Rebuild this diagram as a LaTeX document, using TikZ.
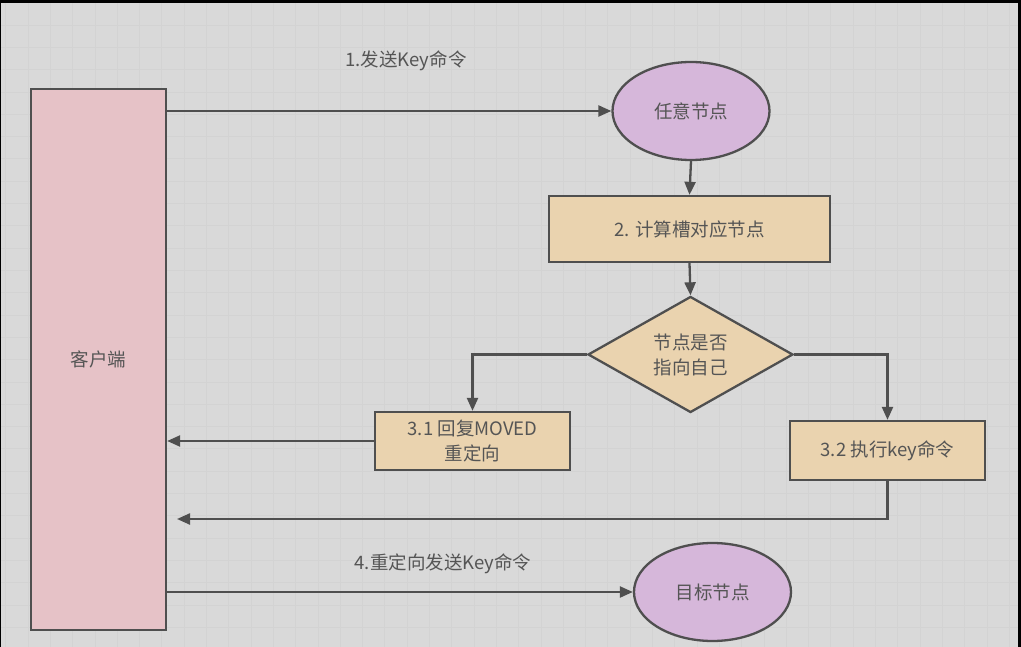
\documentclass[tikz,border=0pt]{standalone}
\usepackage{fontspec}
\setmainfont{Noto Sans CJK SC}
\usetikzlibrary{shapes.geometric,arrows.meta}
\definecolor{bgc}{HTML}{D9D9D9}
\definecolor{gridc}{HTML}{D3D3D3}
\definecolor{linec}{HTML}{4F4F4F}
\definecolor{txtc}{HTML}{555555}
\definecolor{pinkc}{HTML}{E6C2C7}
\definecolor{beigec}{HTML}{EAD3AF}
\definecolor{purplec}{HTML}{D6B7DA}
\tikzset{
  shapebase/.style={draw=linec, line width=2.3pt, text=txtc, font=\fontsize{18.5}{25}\selectfont, inner sep=0pt, align=center},
  boxn/.style={shapebase, rectangle, fill=beigec},
  ellnode/.style={shapebase, ellipse, fill=purplec, minimum width=157pt, minimum height=98pt},
  decnode/.style={shapebase, diamond, fill=beigec, minimum width=205pt, minimum height=115pt},
  conn/.style={draw=linec, line width=2.3pt},
  arr/.style={conn, -{Triangle[length=13pt,width=11pt]}},
  lbl/.style={text=txtc, font=\fontsize{18.5}{22}\selectfont, inner sep=0pt},
}
\begin{document}
\begin{tikzpicture}[x=1pt,y=-1pt]
\useasboundingbox (0,0) rectangle (1021,647);
\fill[bgc] (0,0) rectangle (1021,647);
\foreach \i in {0,...,45} \draw[gridc, line width=0.8pt] ({5.7+22.3*\i},0) -- ++(0,647);
\foreach \i in {0,...,29} \draw[gridc, line width=0.8pt] (0,{2.8+22.3*\i}) -- ++(1021,0);
\fill[black] (0,0) rectangle (1021,3);
\fill[black] (1018,0) rectangle (1021,647);
\fill[black] (0,0) rectangle (1,647);

\node[shapebase, rectangle, fill=pinkc, minimum width=135pt, minimum height=541pt] (client) at (98.5,359.5) {客户端};
\node[ellnode] (e1) at (691,111) {任意节点};
\node[boxn, minimum width=281pt, minimum height=66pt] (r2) at (689.5,229) {2. 计算槽对应节点};
\node[decnode] (d) at (690.5,354.5) {节点是否\\指向自己};
\node[boxn, minimum width=195pt, minimum height=58pt] (r31) at (472.5,441) {3.1 回复MOVED\\重定向};
\node[boxn, minimum width=195pt, minimum height=59pt] (r32) at (887.5,450.5) {3.2 执行key命令};
\node[ellnode] (e2) at (712.5,592) {目标节点};
\coordinate (ret) at (177,519);

\node[lbl] (l1) at (406,61) {1.发送Key命令};
\node[lbl] (l4) at (443,564) {4.重定向发送Key命令};

\draw[arr] (client.east |- e1) -- (e1.west);
\draw[arr] (e1.south) -- (r2.north);
\draw[arr] (r2.south) -- (d.north);
\draw[arr] (d.west) -| (r31.north);
\draw[arr] (d.east) -| (r32.north);
\draw[arr] (r31.west) -- (client.east |- r31.west);
\draw[arr] (r32.south) |- (ret);
\draw[arr] (client.east |- e2) -- (e2.west);
\end{tikzpicture}
\end{document}
